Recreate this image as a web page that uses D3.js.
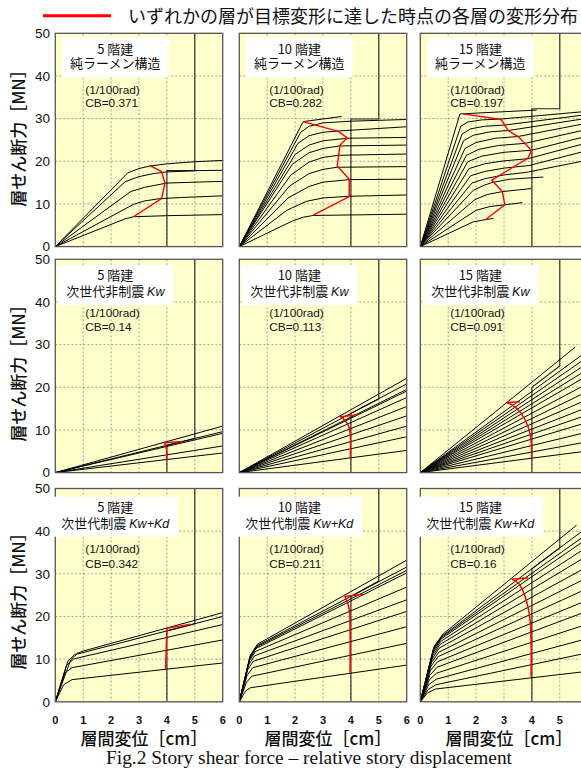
<!DOCTYPE html>
<html><head><meta charset="utf-8">
<script src="https://cdn.jsdelivr.net/npm/d3@7"></script>
<style>body{margin:0;background:#fff}svg{display:block}</style>
</head><body><svg id="c" width="581" height="769"></svg>
<script>
// ---------------- data ----------------
const xTicks = [0, 1, 2, 3, 4, 5, 6];
const yTicks = [0, 10, 20, 30, 40, 50];
const gridX = [1, 2, 3, 4, 5];
const gridY = [10, 20, 30, 40];
const storyLabels = ["5 階建", "10 階建", "15 階建"];
const systemNames = ["純ラーメン構造", "次世代非制震 ", "次世代制震 "];
const systemSymbols = ["", "Kw", "Kw+Kd"];
const rotationNote = "(1/100rad)";
const cbValues = [["0.371", "0.282", "0.197"], ["0.14", "0.113", "0.091"], ["0.342", "0.211", "0.16"]];
// target-drift limit line: shear level where it steps from 4 cm to 5 cm [at 4 cm, at 5 cm]
const limitLevels = [
  [[17.8, 17.8], [29.9, 29.9], [32.3, 32.3]],
  [[6.4, 8.0], [13.9, 17.3], [20.0, 25.0]],
  [[16.6, 18.3], [24.7, 28.3], [31.2, 36.1]]
];
const yTitle = "層せん断力［MN］";
const xTitle = "層間変位［cm］";
const legendText = "いずれかの層が目標変形に達した時点の各層の変形分布";
const caption = "Fig.2 Story shear force – relative story displacement";

// Row 1: pure moment frame (純ラーメン構造)
const frame5 = [
  [[0,0],[2.6,17.3],[3.0,18.3],[3.4,18.9],[4.0,19.4],[5.0,19.9],[6,20.2]],
  [[0,0],[2.5,15.2],[3.0,16.4],[3.5,17.1],[4.0,17.5],[5.0,17.8],[6,17.9]],
  [[0,0],[2.7,12.9],[3.2,13.9],[3.6,14.4],[4.0,14.9],[6,15.3]],
  [[0,0],[2.8,9.9],[3.2,10.7],[3.75,11.25],[4.5,11.5],[6,11.9]],
  [[0,0],[2.5,6.5],[2.8,7.0],[4.0,7.25],[6,7.5]]
];
const frame10 = [
  [[0,0],[2.29,29.3],[3.67,30.5]],
  [[0,0],[2.2,26.8],[2.5,28.2],[3.0,29.0],[4.0,29.4],[6,29.8]],
  [[0,0],[2.1,24.2],[2.5,26.0],[3.0,26.8],[3.55,27.1],[6,28.1]],
  [[0,0],[2.0,21.6],[2.5,23.8],[3.0,24.8],[3.87,25.4],[6,25.6]],
  [[0,0],[1.9,19.3],[2.5,22.0],[3.0,23.0],[3.6,23.6],[6,23.8]],
  [[0,0],[1.85,16.8],[2.5,19.8],[3.0,20.9],[3.55,21.4],[6,21.7]],
  [[0,0],[1.8,14.2],[2.5,17.1],[3.0,18.1],[3.5,18.6],[6,18.75]],
  [[0,0],[1.75,11.4],[2.5,14.1],[3.0,15.1],[3.94,15.7],[6,15.8]],
  [[0,0],[1.7,8.5],[2.4,10.6],[3.0,11.4],[3.94,11.8],[6,12.1]],
  [[0,0],[1.9,6.0],[2.3,6.9],[2.65,7.3],[6,7.6]]
];
const frame15 = [
  [[0,0],[1.42,31.1],[4.17,32.0]],
  [[0,0],[1.45,28.2],[1.7,29.2],[2.2,29.7],[2.9,29.9],[5.8,31.6]],
  [[0,0],[1.5,26.4],[1.8,27.6],[2.3,28.2],[3.03,28.5],[5.8,30.8]],
  [[0,0],[1.55,24.8],[1.9,26.1],[2.5,26.9],[3.15,27.2],[5.8,29.9]],
  [[0,0],[1.6,23.0],[2.0,24.4],[2.7,25.4],[3.5,25.8],[5.8,28.7]],
  [[0,0],[1.65,21.4],[2.1,22.8],[2.8,23.7],[3.75,24.2],[5.8,27.2]],
  [[0,0],[1.7,19.9],[2.2,21.2],[3.0,22.1],[3.99,22.6],[5.8,25.6]],
  [[0,0],[1.75,18.3],[2.3,19.4],[3.0,20.1],[3.85,20.6],[5.8,24.0]],
  [[0,0],[1.8,16.6],[2.3,17.6],[3.0,18.4],[3.9,19.0],[5.8,22.2]],
  [[0,0],[1.85,14.9],[2.3,15.9],[3.0,16.8],[3.8,17.4],[5.8,20.0]],
  [[0,0],[1.9,13.2],[2.3,14.4],[2.56,15.0],[3.2,15.8],[4.41,16.3]],
  [[0,0],[1.95,11.0],[2.4,12.2],[2.94,12.9],[3.97,13.6]],
  [[0,0],[2.0,8.5],[2.5,9.4],[3.03,9.8],[3.66,10.3]],
  [[0,0],[1.9,5.8],[2.32,6.3],[2.62,6.6]]
];
// Row 2: Kw (linear)
const kw5 = [
  [[0,0],[6,10.9]], [[0,0],[6,9.6]], [[0,0],[6,9.2]], [[0,0],[6,6.25]], [[0,0],[6,4.6]]
];
const kw10 = [
  [[0,0],[6,22.1]], [[0,0],[6,20.8]], [[0,0],[6,19.5]], [[0,0],[6,19.1]], [[0,0],[6,17.6]],
  [[0,0],[6,15.5]], [[0,0],[6,13.3]], [[0,0],[6,10.9]], [[0,0],[6,8.4]], [[0,0],[6,5.2]]
];
const kw15 = [
  [[0,0],[5.55,29.4]], [[0,0],[5.8,27.6]], [[0,0],[5.8,26.2]], [[0,0],[5.8,24.8]], [[0,0],[5.8,23.4]],
  [[0,0],[5.8,22.0]], [[0,0],[5.8,20.2]], [[0,0],[5.8,18.4]], [[0,0],[5.8,16.6]], [[0,0],[5.8,14.8]],
  [[0,0],[5.8,13.1]], [[0,0],[5.8,11.4]], [[0,0],[5.8,9.2]], [[0,0],[5.8,7.0]], [[0,0],[5.8,4.9]]
];
// Row 3: Kw+Kd
const kwkd5 = [
  [[0,0],[0.55,9.8],[0.8,11.4],[1.0,11.9],[6,20.9]],
  [[0,0],[0.45,9.5],[0.7,11.1],[0.85,11.3],[6,20.0]],
  [[0,0],[0.4,8.5],[0.65,10.0],[0.95,10.5],[6,18.1]],
  [[0,0],[0.35,6.8],[0.6,8.0],[6,14.5]],
  [[0,0],[0.3,4.0],[0.6,5.2],[6,9.1]]
];
const kwkd10 = [
  [[0,0],[0.4,11.0],[0.65,13.5],[6,33.2]],
  [[0,0],[0.4,10.8],[0.65,13.2],[6,31.6]],
  [[0,0],[0.38,10.5],[0.63,12.9],[6,30.8]],
  [[0,0],[0.37,10.1],[0.6,12.5],[6,30.2]],
  [[0,0],[0.35,9.5],[0.58,11.8],[6,26.9]],
  [[0,0],[0.33,8.6],[0.55,10.8],[6,23.9]],
  [[0,0],[0.3,7.5],[0.5,9.5],[6,21.2]],
  [[0,0],[0.28,6.2],[0.48,8.0],[6,17.6]],
  [[0,0],[0.26,4.6],[0.45,6.0],[6,13.7]],
  [[0,0],[0.22,2.5],[0.4,3.3],[6,8.6]]
];
const kwkd15 = [
  [[0,0],[0.5,13.0],[0.8,15.8],[5.6,41.4]],
  [[0,0],[0.48,12.6],[0.78,15.4],[5.8,40.0]],
  [[0,0],[0.47,12.3],[0.76,15.1],[5.8,38.5]],
  [[0,0],[0.46,12.0],[0.74,14.7],[5.8,37.4]],
  [[0,0],[0.45,11.4],[0.72,14.1],[5.8,35.5]],
  [[0,0],[0.44,10.8],[0.7,13.4],[5.8,33.5]],
  [[0,0],[0.42,10.0],[0.68,12.6],[5.8,31.0]],
  [[0,0],[0.4,9.2],[0.66,11.6],[5.8,28.5]],
  [[0,0],[0.38,8.3],[0.64,10.6],[5.8,26.0]],
  [[0,0],[0.36,7.3],[0.62,9.4],[5.8,23.3]],
  [[0,0],[0.34,6.2],[0.6,8.1],[5.8,20.8]],
  [[0,0],[0.32,5.1],[0.58,6.7],[5.8,17.8]],
  [[0,0],[0.3,4.0],[0.57,5.3],[5.8,14.5]],
  [[0,0],[0.28,2.9],[0.56,4.0],[5.8,11.2]],
  [[0,0],[0.26,2.1],[0.55,3.0],[5.8,7.0]]
];
// red: deformation distribution when some story reached the target drift
const redFrame5 = [[3.39,19.0],[3.81,17.6],[3.93,14.86],[3.81,11.25],[2.8,7.0]];
const redFrame10 = [[2.29,29.3],[3.55,27.0],[3.87,25.5],[3.61,23.8],[3.51,18.9],[3.94,15.8],[3.94,11.7],[2.65,7.4]];
const redFrame15 = [[1.54,31.1],[2.89,29.8],[3.03,28.5],[3.15,27.2],[3.51,25.8],[3.99,22.5],[3.85,20.7],[2.56,15.6],[2.94,12.9],[3.03,9.8],[2.32,6.25]];
const redKw5 = [[4.53,7.3],[3.9,7.0],[3.96,6.3],[3.99,5.0],[3.99,3.0]];
const redKw10 = [[4.2,13.5],[3.61,13.1],[3.76,12.4],[3.9,11.2],[3.97,9.5],[3.98,3.4]];
const redKw15 = [[3.57,16.6],[3.07,16.4],[3.3,15.8],[3.6,14.0],[3.85,11.0],[3.97,7.5],[3.99,3.4]];
const redKwKd5 = [[4.86,18.2],[4.0,17.2],[3.95,7.6]];
const redKwKd10 = [[4.43,25.2],[3.78,24.7],[3.88,23.3],[3.95,21.0],[3.97,17.0],[3.97,6.7]];
const redKwKd15 = [[3.87,29.1],[3.28,28.7],[3.52,27.8],[3.75,24.8],[3.92,20.0],[3.97,14.0],[3.97,5.9]];

const panelCurves = [[frame5, frame10, frame15], [kw5, kw10, kw15], [kwkd5, kwkd10, kwkd15]];
const panelRed = [[redFrame5, redFrame10, redFrame15], [redKw5, redKw10, redKw15], [redKwKd5, redKwKd10, redKwKd15]];

// ---------------- layout ----------------
const colX = [55.3, 239.3, 420.3], rowY = [33.3, 259.3, 488.5], PW = 167.4, PH = 213.3;
const boxTop = [4, 5.7, 8.2], line1Y = [15.7, 15.7, 18.8], line2Y = [29.7, 32.4, 34.2];
const noteY = [57, 54, 60.5], cbY = [69.2, 67.4, 75.8];
const rowTitleY = [134, 369, 597];
const JP = "'Noto Sans CJK JP', 'Noto Sans', sans-serif";
const AR = "'Liberation Sans', Arial, sans-serif";
const W = 581;

const svg = d3.select("#c");
const x = d3.scaleLinear().domain([0, 6]).range([0, PW]);
const y = d3.scaleLinear().domain([0, 50]).range([PH, 0]);
const line = d3.line().x(d => x(d[0])).y(d => y(d[1]));
const smooth = d3.line().x(d => x(d[0])).y(d => y(d[1])).curve(d3.curveCatmullRom.alpha(0.5));

const defs = svg.append("defs");

for (let r = 0; r < 3; r++) {
  for (let c = 0; c < 3; c++) {
    const g = svg.append("g").attr("transform", `translate(${colX[c]},${rowY[r]})`);
    const cid = `clip${r}${c}`;
    defs.append("clipPath").attr("id", cid).append("rect").attr("width", PW).attr("height", PH);
    g.append("rect").attr("width", PW).attr("height", PH).attr("fill", "#ffffcc");
    // grid
    g.selectAll(".gx").data(gridX).enter().append("line")
      .attr("x1", d => x(d)).attr("x2", d => x(d)).attr("y1", 0).attr("y2", PH)
      .attr("stroke", "#8c8c8c").attr("stroke-width", 0.8).attr("stroke-dasharray", "2,2");
    g.selectAll(".gy").data(gridY).enter().append("line")
      .attr("y1", d => y(d)).attr("y2", d => y(d)).attr("x1", 0).attr("x2", PW)
      .attr("stroke", "#8c8c8c").attr("stroke-width", 0.8).attr("stroke-dasharray", "2,2");
    const pg = g.append("g").attr("clip-path", `url(#${cid})`);
    // target drift limit (4 cm / 5 cm)
    const L = limitLevels[r][c];
    pg.append("path").attr("d", line([[4, 0], [4, L[0]], [5, L[1]], [5, 50]]))
      .attr("fill", "none").attr("stroke", "#222").attr("stroke-width", 1.1);
    // curves
    pg.selectAll(".cv").data(panelCurves[r][c]).enter().append("path")
      .attr("d", d => line(d)).attr("fill", "none").attr("stroke", "#000").attr("stroke-width", 1);
    // red
    const red = panelRed[r][c];
    if (r === 0 || (r === 2 && c === 0)) {
      pg.append("path").attr("d", line(red)).attr("fill", "none").attr("stroke", "#ff0000").attr("stroke-width", 1.4);
    } else {
      pg.append("path").attr("d", line(red.slice(0, 2))).attr("fill", "none").attr("stroke", "#ff0000").attr("stroke-width", 1.5);
      pg.append("path").attr("d", smooth(red.slice(1))).attr("fill", "none").attr("stroke", "#ff0000").attr("stroke-width", 1.5);
    }
    // frame
    g.append("rect").attr("width", PW).attr("height", PH).attr("fill", "none")
      .attr("stroke", "#555").attr("stroke-width", 1.3);
    // label box (one multi-line text)
    const lb = g.append("g");
    const cx = 60;
    const t = lb.append("text").attr("font-family", JP).attr("font-size", 13).attr("fill", "#111")
      .attr("text-anchor", "middle");
    t.append("tspan").attr("x", cx).attr("y", line1Y[r] + 4.8).text(storyLabels[c]);
    const l2 = t.append("tspan").attr("x", cx).attr("y", line2Y[r] + 4.8);
    l2.append("tspan").text(systemNames[r]);
    if (systemSymbols[r]) l2.append("tspan").attr("font-family", AR).attr("font-style", "italic").attr("font-size", 12.5).text(systemSymbols[r]);
    const bw = t.node().getBBox().width + 16;
    lb.insert("rect", "text").attr("x", cx - bw / 2).attr("y", boxTop[r]).attr("width", bw).attr("height", 40).attr("fill", "#ffffff");
    // note + CB (one multi-line text)
    const n = g.append("text").attr("font-family", AR).attr("font-size", 11.8).attr("fill", "#111");
    n.append("tspan").attr("x", 30).attr("y", noteY[r] + 4.1).text(rotationNote);
    n.append("tspan").attr("x", 30).attr("y", cbY[r] + 4.1).text("CB=" + cbValues[r][c]);
  }
  // y tick labels
  svg.append("g").selectAll("text").data(yTicks).enter().append("text")
    .attr("x", 50).attr("y", d => rowY[r] + y(d) + 4.8).attr("text-anchor", "end")
    .attr("font-family", AR).attr("font-size", 13.5).attr("fill", "#111").text(d => d);
  // y title
  svg.append("text").attr("transform", `translate(17,${rowTitleY[r]}) rotate(-90)`)
    .attr("text-anchor", "middle").attr("dominant-baseline", "central")
    .attr("font-family", JP).attr("font-size", 17).attr("font-weight", 500).attr("fill", "#111").text(yTitle);
}
// x tick labels and titles
for (let c = 0; c < 3; c++) {
  svg.append("g").selectAll("text").data(xTicks.filter(d => colX[c] + x(d) < W - 4)).enter().append("text")
    .attr("x", d => colX[c] + x(d)).attr("y", 724).attr("text-anchor", "middle")
    .attr("font-family", AR).attr("font-size", 11).attr("font-weight", "bold").attr("fill", "#111").text(d => d);
  svg.append("text").attr("x", colX[c] + PW / 2 + 5).attr("y", 745).attr("text-anchor", "middle")
    .attr("font-family", JP).attr("font-size", 17).attr("font-weight", 500)
    .attr("fill", "#111").text(xTitle);
}
// legend / title
svg.append("line").attr("x1", 43).attr("x2", 111).attr("y1", 15.7).attr("y2", 15.7).attr("stroke", "#ff0000").attr("stroke-width", 3);
svg.append("text").attr("x", 128).attr("y", 22.5)
  .attr("font-family", JP).attr("font-size", 18).attr("fill", "#111").text(legendText);
// caption
svg.append("text").attr("x", 106).attr("y", 764).attr("font-family", "'Liberation Serif', 'Times New Roman', serif")
  .attr("font-size", 19.4).attr("fill", "#111").text(caption);
</script></body></html>
